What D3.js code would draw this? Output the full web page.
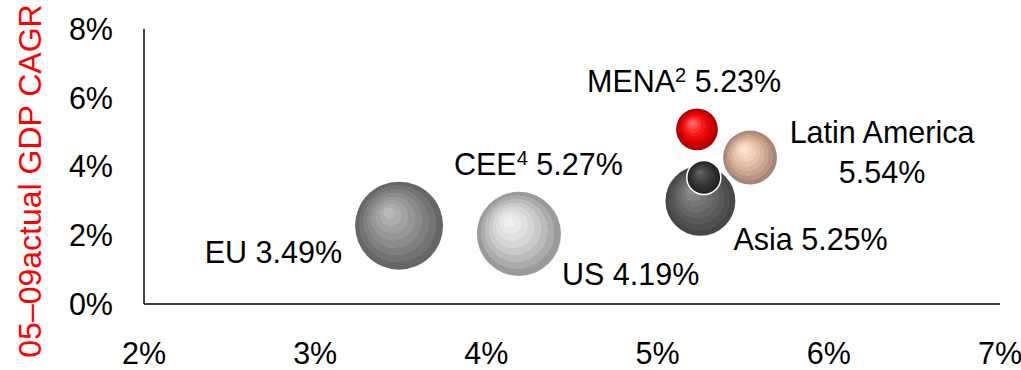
<!DOCTYPE html>
<html>
<head>
<meta charset="utf-8">
<script src="https://cdn.jsdelivr.net/npm/d3@7"></script>
<style>
  body { margin: 0; background: #fff; }
  svg text { font-family: Arial, "Liberation Sans", sans-serif; }
</style>
</head>
<body>
<div id="chart"></div>
<script>
// data
const regions = ["EU", "US", "Asia", "CEE", "MENA", "Latin America"];
const sups    = ["",   "",   "",     "4",   "2",    ""];
const growth  = [3.49, 4.19, 5.25, 5.27, 5.23, 5.54];   // x, %
const actual  = [2.28, 2.04, 3.00, 3.68, 5.08, 4.26];   // y, 05-09 actual GDP CAGR %
const sizes   = [16.0, 14.6, 10.1, 2.4, 3.6, 6.0];      // bubble size
const xTicks  = [2, 3, 4, 5, 6, 7];
const yTicks  = [0, 2, 4, 6, 8];

// bubble shading: [highlight, mid, outer]
const shades = {
  "EU": ["#b8b8b8", "#929292", "#666666"],
  "US": ["#efefef", "#d6d6d6", "#9a9a9a"],
  "Asia": ["#8e8e8e", "#666666", "#474747"],
  "CEE": ["#636363", "#3a3a3a", "#222222"],
  "MENA": ["#ff6a6a", "#ff0000", "#b00000"],
  "Latin America": ["#ffe2d0", "#e8bca4", "#a68776"]
};

// label placement relative to bubble centre
const labelPos = {
  "EU": {dx: -57, dy: 37, anchor: "end"},
  "US": {dx: 43, dy: 51, anchor: "start"},
  "Asia": {dx: 33, dy: 49, anchor: "start"},
  "CEE": {dx: -81, dy: -3, anchor: "end"},
  "MENA": {dx: -110, dy: -37, anchor: "start"},
  "Latin America": {dx: 132, dy: -15, anchor: "middle", split: true}
};

const W = 1021, H = 370;
const svg = d3.select("#chart").append("svg")
  .attr("width", W).attr("height", H);

const x = d3.scaleLinear().domain([2, 7]).range([144, 1000]);
const y = d3.scaleLinear().domain([0, 8]).range([304, 29]);
const r = d3.scaleSqrt().domain([0, d3.max(sizes)]).range([0, 44]);

const data = regions.map((d, i) => ({
  name: d, sup: sups[i], gx: growth[i], gy: actual[i], size: sizes[i]
}));

// stepped radial gradients, focus up-left
const defs = svg.append("defs");
const steps = 8;
data.forEach((d, i) => {
  const g = defs.append("radialGradient")
    .attr("id", "grad" + i)
    .attr("cx", "0.5").attr("cy", "0.5").attr("r", "0.5")
    .attr("fx", "0.37").attr("fy", "0.34");
  const c = d3.interpolateRgbBasis(shades[d.name]);
  for (let k = 0; k < steps; k++) {
    const col = c(k / (steps - 1));
    g.append("stop").attr("offset", k / steps).attr("stop-color", col);
    g.append("stop").attr("offset", (k + 1) / steps).attr("stop-color", col);
  }
});

// axes
svg.append("line")
  .attr("x1", x(2)).attr("x2", x(2))
  .attr("y1", y(8)).attr("y2", y(0))
  .attr("stroke", "#000").attr("stroke-width", 1.5);
svg.append("line")
  .attr("x1", x(2)).attr("x2", x(7))
  .attr("y1", y(0)).attr("y2", y(0))
  .attr("stroke", "#000").attr("stroke-width", 1.5);

svg.append("g").selectAll("text")
  .data(yTicks).enter().append("text")
  .attr("x", 113).attr("y", d => y(d))
  .attr("dy", "0.36em")
  .attr("text-anchor", "end")
  .attr("font-size", 30.5)
  .text(d => d + "%");

svg.append("g").selectAll("text")
  .data(xTicks).enter().append("text")
  .attr("x", d => x(d)).attr("y", 364)
  .attr("text-anchor", "middle")
  .attr("font-size", 30.5)
  .text(d => d + "%");

// y title
svg.append("text")
  .attr("transform", "translate(41,181)rotate(-90)")
  .attr("text-anchor", "middle")
  .attr("font-size", 32)
  .attr("fill", "#ff0000")
  .text("05\u201309actual GDP CAGR");

// bubbles
svg.append("g").selectAll("circle")
  .data(data).enter().append("circle")
  .attr("cx", d => x(d.gx))
  .attr("cy", d => y(d.gy))
  .attr("r", d => r(d.size))
  .attr("fill", (d, i) => "url(#grad" + i + ")")
  .attr("stroke", d => d.name === "CEE" ? "#fff" : "none")
  .attr("stroke-width", 1.5);

// labels
const lab = svg.append("g").selectAll("text")
  .data(data).enter().append("text")
  .attr("x", d => x(d.gx) + labelPos[d.name].dx)
  .attr("y", d => y(d.gy) + labelPos[d.name].dy)
  .attr("text-anchor", d => labelPos[d.name].anchor)
  .attr("font-size", 30.5)
  .attr("fill", "#000");

lab.each(function(d) {
  const t = d3.select(this);
  const val = d3.format(".2f")(d.gx) + "%";
  if (labelPos[d.name].split) {
    const x0 = x(d.gx) + labelPos[d.name].dx;
    t.append("tspan").attr("x", x0).text(d.name);
    t.append("tspan").attr("x", x0).attr("dy", 40).text(val);
  } else if (d.sup) {
    t.append("tspan").text(d.name);
    t.append("tspan").attr("dy", -10).attr("font-size", 20).text(d.sup);
    t.append("tspan").attr("dy", 10).text(" " + val);
  } else {
    t.text(d.name + " " + val);
  }
});
</script>
</body>
</html>
